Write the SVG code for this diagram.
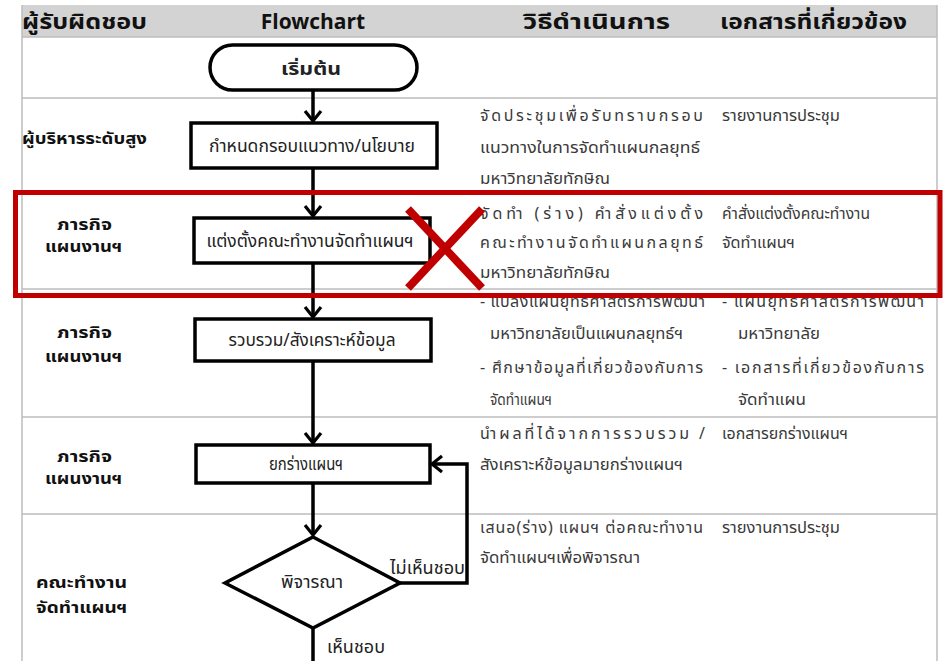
<svg xmlns="http://www.w3.org/2000/svg" width="943" height="661" viewBox="0 0 943 661">
  <style>
    .grid { stroke: #BDBDBD; stroke-width: 1.5; fill: none; }
    .head { font-family: "Noto Sans Thai", "Noto Sans", "Liberation Sans", sans-serif; font-size: 21px; font-weight: bold; fill: #111; }
    .role { font-family: "Noto Sans Thai", "Noto Sans", "Liberation Sans", sans-serif; font-size: 15px; font-weight: bold; fill: #111; }
    .body { font-family: "Noto Sans Thai", "Noto Sans", "Liberation Sans", sans-serif; font-size: 16px; fill: #3a3a3a; }
    .node { fill: #fff; stroke: #000; stroke-width: 3.5; }
    .ntext { font-family: "Noto Sans Thai", "Noto Sans", "Liberation Sans", sans-serif; font-size: 17.5px; fill: #222; text-anchor: middle; }
    .flow { stroke: #000; stroke-width: 3.5; fill: none; }
    .mark { stroke: #C00000; fill: none; }
  </style>
  <defs>
    <marker id="arrow" viewBox="0 0 12 18" refX="11" refY="9" markerWidth="12" markerHeight="18" markerUnits="userSpaceOnUse" orient="auto" overflow="visible">
      <path d="M1,1 L11,9 L1,17" fill="none" stroke="#000" stroke-width="3.2"/>
    </marker>
  </defs>

  <rect width="943" height="661" fill="#fff"/>

  <!-- table -->
  <g id="table">
    <rect x="22" y="5" width="915" height="32" fill="#D3D3D3"/>
    <line class="grid" x1="22" y1="5" x2="22" y2="661"/>
    <line class="grid" x1="937" y1="5" x2="937" y2="661"/>
    <line class="grid" x1="22" y1="37" x2="937" y2="37"/>
    <line class="grid" x1="22" y1="98" x2="937" y2="98"/>
    <line class="grid" x1="22" y1="192" x2="937" y2="192"/>
    <line class="grid" x1="22" y1="289" x2="937" y2="289"/>
    <line class="grid" x1="22" y1="417" x2="937" y2="417"/>
    <line class="grid" x1="22" y1="514" x2="937" y2="514"/>
    <text class="head" x="22" y="29" textLength="125" lengthAdjust="spacingAndGlyphs">ผู้รับผิดชอบ</text>
    <text class="head" x="313" y="29" text-anchor="middle" font-size="22.5">Flowchart</text>
    <text class="head" x="523" y="29" textLength="147" lengthAdjust="spacingAndGlyphs">วิธีดำเนินการ</text>
    <text class="head" x="720" y="29" textLength="187" lengthAdjust="spacingAndGlyphs">เอกสารที่เกี่ยวข้อง</text>
  </g>

  <!-- responsible parties -->
  <g id="roles">
    <text class="role" x="22" y="144" font-size="17" textLength="125" lengthAdjust="spacingAndGlyphs">ผู้บริหารระดับสูง</text>
    <text class="role" x="57" y="230" textLength="55" lengthAdjust="spacingAndGlyphs">ภารกิจ</text>
    <text class="role" x="45" y="252" textLength="77" lengthAdjust="spacingAndGlyphs">แผนงานฯ</text>
    <text class="role" x="57" y="338" textLength="55" lengthAdjust="spacingAndGlyphs">ภารกิจ</text>
    <text class="role" x="45" y="362" textLength="77" lengthAdjust="spacingAndGlyphs">แผนงานฯ</text>
    <text class="role" x="57" y="462" textLength="55" lengthAdjust="spacingAndGlyphs">ภารกิจ</text>
    <text class="role" x="45" y="484" textLength="77" lengthAdjust="spacingAndGlyphs">แผนงานฯ</text>
    <text class="role" x="36" y="588" textLength="91" lengthAdjust="spacingAndGlyphs">คณะทำงาน</text>
    <text class="role" x="36" y="613" textLength="91" lengthAdjust="spacingAndGlyphs">จัดทำแผนฯ</text>
  </g>

  <!-- procedures -->
  <g id="procedures">
    <text class="body" x="480" y="121" textLength="223" lengthAdjust="spacing">จัดประชุมเพื่อรับทราบกรอบ</text>
    <text class="body" x="480" y="153" textLength="220" lengthAdjust="spacingAndGlyphs">แนวทางในการจัดทำแผนกลยุทธ์</text>
    <text class="body" x="480" y="184" textLength="130" lengthAdjust="spacingAndGlyphs">มหาวิทยาลัยทักษิณ</text>
    <text class="body" x="480" y="219" textLength="223" lengthAdjust="spacing">จัดทำ (ร่าง) คำสั่งแต่งตั้ง</text>
    <text class="body" x="480" y="248" textLength="223" lengthAdjust="spacing">คณะทำงานจัดทำแผนกลยุทธ์</text>
    <text class="body" x="480" y="278" textLength="130" lengthAdjust="spacingAndGlyphs">มหาวิทยาลัยทักษิณ</text>
    <text class="body" x="480" y="307" textLength="225" lengthAdjust="spacing">- แปลงแผนยุทธศาสตร์การพัฒนา</text>
    <text class="body" x="490" y="339" textLength="193" lengthAdjust="spacingAndGlyphs">มหาวิทยาลัยเป็นแผนกลยุทธ์ฯ</text>
    <text class="body" x="480" y="373" textLength="223" lengthAdjust="spacing">- ศึกษาข้อมูลที่เกี่ยวข้องกับการ</text>
    <text class="body" x="490" y="405" textLength="62" lengthAdjust="spacingAndGlyphs">จัดทำแผนฯ</text>
    <text class="body" x="480" y="439" textLength="225" lengthAdjust="spacing">นำผลที่ได้จากการรวบรวม /</text>
    <text class="body" x="480" y="470" textLength="203" lengthAdjust="spacingAndGlyphs">สังเคราะห์ข้อมูลมายกร่างแผนฯ</text>
    <text class="body" x="480" y="533" textLength="223" lengthAdjust="spacing">เสนอ(ร่าง) แผนฯ ต่อคณะทำงาน</text>
    <text class="body" x="480" y="563" textLength="160" lengthAdjust="spacingAndGlyphs">จัดทำแผนฯเพื่อพิจารณา</text>
  </g>

  <!-- related documents -->
  <g id="documents">
    <text class="body" x="722" y="121" textLength="118" lengthAdjust="spacingAndGlyphs">รายงานการประชุม</text>
    <text class="body" x="722" y="219" textLength="148" lengthAdjust="spacingAndGlyphs">คำสั่งแต่งตั้งคณะทำงาน</text>
    <text class="body" x="722" y="248" textLength="73" lengthAdjust="spacingAndGlyphs">จัดทำแผนฯ</text>
    <text class="body" x="722" y="307" textLength="202" lengthAdjust="spacing">- แผนยุทธศาสตร์การพัฒนา</text>
    <text class="body" x="738" y="339" textLength="82" lengthAdjust="spacingAndGlyphs">มหาวิทยาลัย</text>
    <text class="body" x="722" y="373" textLength="202" lengthAdjust="spacing">- เอกสารที่เกี่ยวข้องกับการ</text>
    <text class="body" x="738" y="405" textLength="68" lengthAdjust="spacingAndGlyphs">จัดทำแผน</text>
    <text class="body" x="722" y="439" textLength="126" lengthAdjust="spacingAndGlyphs">เอกสารยกร่างแผนฯ</text>
    <text class="body" x="722" y="533" textLength="118" lengthAdjust="spacingAndGlyphs">รายงานการประชุม</text>
  </g>

  <!-- connectors -->
  <g id="connectors">
    <line class="flow" x1="313" y1="90" x2="313" y2="121" marker-end="url(#arrow)"/>
    <line class="flow" x1="313" y1="168" x2="313" y2="216" marker-end="url(#arrow)"/>
    <line class="flow" x1="313" y1="263" x2="313" y2="317" marker-end="url(#arrow)"/>
    <line class="flow" x1="313" y1="361" x2="313" y2="443" marker-end="url(#arrow)"/>
    <line class="flow" x1="313" y1="483" x2="313" y2="535" marker-end="url(#arrow)"/>
    <line class="flow" x1="313" y1="628" x2="313" y2="661"/>
    <polyline class="flow" points="400,583 467,583 467,464 432,464" marker-end="url(#arrow)"/>
    <text class="ntext" x="427.5" y="574" textLength="75" lengthAdjust="spacingAndGlyphs">ไม่เห็นชอบ</text>
    <text class="ntext" x="356" y="653" font-size="16.5" textLength="58" lengthAdjust="spacingAndGlyphs">เห็นชอบ</text>
  </g>

  <!-- flowchart nodes -->
  <g id="start">
    <rect class="node" x="210" y="45" width="207" height="45" rx="22.5"/>
    <text class="ntext" x="311" y="75" font-weight="bold" font-size="20" textLength="60" lengthAdjust="spacingAndGlyphs">เริ่มต้น</text>
  </g>
  <g id="define-framework">
    <rect class="node" x="191" y="123" width="246" height="45"/>
    <text class="ntext" x="312" y="152" textLength="206" lengthAdjust="spacingAndGlyphs">กำหนดกรอบแนวทาง/นโยบาย</text>
  </g>
  <g id="appoint-team">
    <rect class="node" x="194" y="218" width="236" height="45"/>
    <text class="ntext" x="310" y="247" textLength="207" lengthAdjust="spacingAndGlyphs">แต่งตั้งคณะทำงานจัดทำแผนฯ</text>
  </g>
  <g id="collect-data">
    <rect class="node" x="195" y="319" width="236" height="42"/>
    <text class="ntext" x="312" y="346" textLength="167" lengthAdjust="spacingAndGlyphs">รวบรวม/สังเคราะห์ข้อมูล</text>
  </g>
  <g id="draft-plan">
    <rect class="node" x="196" y="445" width="234" height="38"/>
    <text class="ntext" x="306" y="470" textLength="74" lengthAdjust="spacingAndGlyphs">ยกร่างแผนฯ</text>
  </g>
  <g id="review">
    <polygon class="node" points="313,537 400,583 313,628 225,583"/>
    <text class="ntext" x="312" y="588" textLength="62" lengthAdjust="spacingAndGlyphs">พิจารณา</text>
  </g>

  <!-- highlight and cross-out -->
  <g id="highlight">
    <rect class="mark" x="15.5" y="192.5" width="924.5" height="103" stroke-width="5"/>
    <line class="mark" x1="408" y1="209" x2="482" y2="288" stroke-width="8"/>
    <line class="mark" x1="482" y1="209" x2="408" y2="288" stroke-width="8"/>
  </g>
</svg>
